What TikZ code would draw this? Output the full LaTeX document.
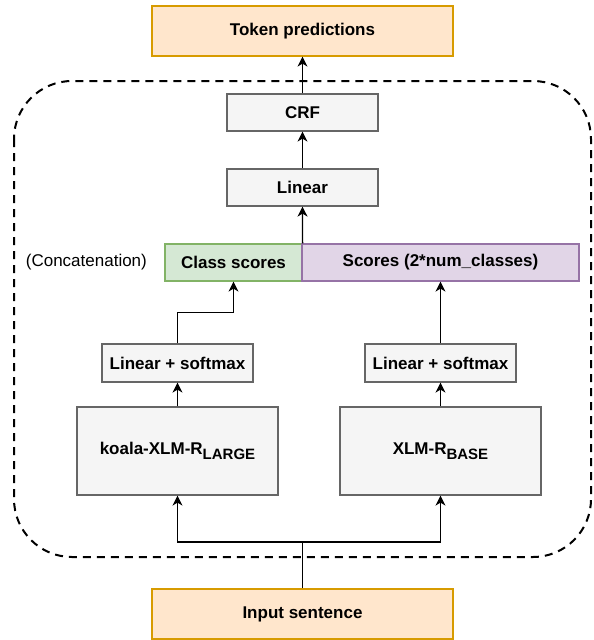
\documentclass[tikz,border=0pt]{standalone}
\usepackage{fontspec}
\setmainfont{Liberation Sans}
\usetikzlibrary{arrows.meta, positioning}
\definecolor{ink}{HTML}{000000}
\definecolor{boxf}{HTML}{F5F5F5}
\definecolor{boxd}{HTML}{666666}
\definecolor{orf}{HTML}{FFE6CC}
\definecolor{ord}{HTML}{D79B00}
\definecolor{grf}{HTML}{D5E8D4}
\definecolor{grd}{HTML}{82B366}
\definecolor{puf}{HTML}{E1D5E7}
\definecolor{pud}{HTML}{9673A6}
\tikzset{blk/.style={draw=boxd, fill=boxf, line width=1.2pt, inner sep=0pt, font=\fontsize{17}{20}\selectfont\bfseries},
  io/.style={blk, draw=ord, fill=orf},
  arr/.style={ink, line width=1.3pt, -{Stealth[length=10pt,width=10pt,inset=3pt]}},
  ln/.style={ink, line width=1.3pt}}
\begin{document}
\begin{tikzpicture}[x=1pt,y=-1pt]
  \useasboundingbox (0,0) rectangle (594,640);
  \draw[ink,line width=2pt,dash pattern=on 8pt off 6pt,rounded corners=58pt] (14,81) rectangle (591,557);
  \node[io,minimum width=301pt,minimum height=50pt] (tok) at (302.5,31) {Token predictions};
  \node[blk,minimum width=151pt,minimum height=37pt] (crf) at (302.5,112.5) {CRF};
  \node[blk,minimum width=151pt,minimum height=37pt] (lin) at (302.5,187.5) {Linear};
  \node[blk,draw=grd,fill=grf,minimum width=137pt,minimum height=37pt] (cls) at (233.5,262.5) {Class scores};
  \node[blk,draw=pud,fill=puf,minimum width=277pt,minimum height=37pt] (scr) at (440.5,262.5) {Scores (2*num\_classes)};
  \node[font=\fontsize{17}{20}\selectfont,left=14pt of cls] (cat) {(Concatenation)};
  \node[blk,minimum width=151pt,minimum height=38pt] (sml) at (177.5,363) {Linear + softmax};
  \node[blk,minimum width=151pt,minimum height=38pt] (smr) at (440.5,363) {Linear + softmax};
  \node[blk,minimum width=201pt,minimum height=88pt] (kl) at (177.5,451) {koala-XLM-R\raisebox{-4.5pt}{\fontsize{15}{15}\selectfont LARGE}};
  \node[blk,minimum width=201pt,minimum height=88pt] (kb) at (440.5,451) {XLM-R\raisebox{-4.5pt}{\fontsize{15}{15}\selectfont BASE}};
  \node[io,minimum width=301pt,minimum height=50pt] (inp) at (302.5,614) {Input sentence};
  \coordinate (fork) at (302.5,542);
  \draw[ln] (inp.north)--(fork);
  \draw[arr] (fork) -| (kl.south);
  \draw[arr] (fork) -| (kb.south);
  \draw[arr] (kl.north)--(sml.south);
  \draw[arr] (kb.north)--(smr.south);
  \draw[arr] (sml.north)--++(0,-31) -| (cls.south);
  \draw[arr] (smr.north)--(scr.south);
  \draw[arr] (cls.north east)--(lin.south);
  \draw[arr] (lin.north)--(crf.south);
  \draw[arr] (crf.north)--(tok.south);
\end{tikzpicture}
\end{document}
